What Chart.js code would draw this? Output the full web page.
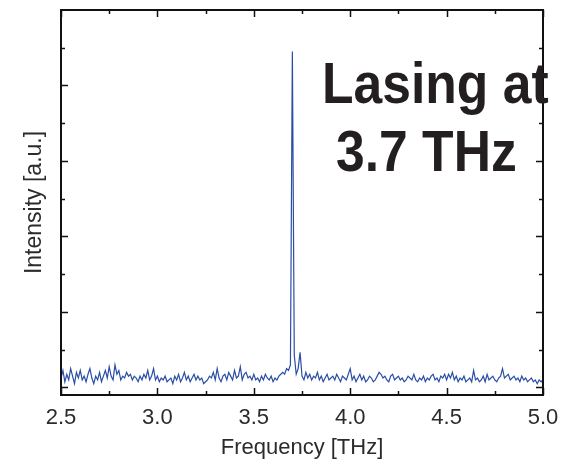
<!DOCTYPE html>
<html>
<head>
<meta charset="utf-8">
<script src="https://cdn.jsdelivr.net/npm/chart.js@4/dist/chart.umd.min.js"></script>
<style>
  html, body { margin: 0; padding: 0; background: #fff; }
  #spec { display: block; }
</style>
</head>
<body>
<canvas id="spec" width="574" height="460"></canvas>
<script>
// spectrum sampled every 0.01 THz from 2.50 to 5.00
var freqStart = 2.5;
var freqStep = 0.01;
var intensity = [
  0.25,0.45,0.15,0.35,0.2,0.5,0.3,0.1,0.4,0.25,0.45,0.2,0.3,0.15,0.35,0.5,0.25,0.1,0.3,0.2,0.4,0.15,0.3,0.45,0.25,
  0.55,0.3,0.2,0.6,0.35,0.45,0.2,0.3,0.25,0.4,0.3,0.35,0.2,0.3,0.25,0.15,0.3,0.2,0.35,0.25,0.45,0.2,0.3,0.5,0.2,
  0.3,0.15,0.25,0.2,0.3,0.15,0.2,0.25,0.1,0.3,0.2,0.35,0.15,0.25,0.4,0.2,0.3,0.15,0.25,0.35,0.2,0.3,0.2,0.25,0.1,
  0.15,0.2,0.3,0.25,0.4,0.2,0.5,0.25,0.15,0.3,0.35,0.2,0.4,0.3,0.2,0.45,0.25,0.3,0.55,0.2,0.35,0.4,0.25,0.3,0.2,
  0.35,0.2,0.25,0.15,0.3,0.2,0.35,0.25,0.2,0.3,0.15,0.25,0.2,0.3,0.35,0.4,0.35,0.5,0.45,0.6,8.9,0.85,0.35,0.5,0.93,
  0.3,0.2,0.4,0.25,0.35,0.2,0.3,0.25,0.4,0.2,0.3,0.15,0.25,0.35,0.2,0.25,0.3,0.2,0.35,0.25,0.15,0.3,0.25,0.2,0.35,
  0.5,0.2,0.3,0.15,0.25,0.35,0.2,0.3,0.15,0.2,0.3,0.25,0.15,0.2,0.3,0.4,0.35,0.25,0.3,0.2,0.15,0.3,0.35,0.2,0.25,
  0.3,0.2,0.25,0.15,0.2,0.3,0.25,0.2,0.35,0.2,0.15,0.25,0.2,0.3,0.15,0.25,0.2,0.3,0.35,0.2,0.25,0.15,0.3,0.25,0.35,
  0.2,0.35,0.25,0.4,0.2,0.3,0.15,0.25,0.2,0.3,0.15,0.2,0.25,0.15,0.45,0.2,0.25,0.15,0.2,0.3,0.15,0.35,0.2,0.25,0.3,
  0.2,0.15,0.25,0.3,0.5,0.25,0.3,0.35,0.2,0.25,0.3,0.2,0.25,0.15,0.3,0.2,0.25,0.15,0.2,0.25,0.15,0.2,0.1,0.2,0.15,0.2
];
var xMajorTicks = [2.5, 3.0, 3.5, 4.0, 4.5, 5.0];
var xMinorTicks = [2.75, 3.25, 3.75, 4.25, 4.75];
var yMajorTicks = [0, 2, 4, 6, 8];
var yMinorTicks = [1, 3, 5, 7, 9];
var noteLines = ['Lasing at', '3.7 THz'];

var points = intensity.map(function(v, i) {
  return { x: +(freqStart + i * freqStep).toFixed(2), y: v };
});

var fontFamily = '"Liberation Sans", Arial, sans-serif';
var inkColor = '#2b2b2b';

// frame + inward ticks on all four sides, and the annotation
var framePlugin = {
  id: 'frame',
  afterDraw: function(chart) {
    var c = chart.ctx;
    var a = chart.chartArea;
    var xs = chart.scales.x, ys = chart.scales.y;
    c.save();
    c.strokeStyle = '#111';
    c.lineWidth = 1.5;
    c.beginPath();
    xMajorTicks.concat(xMinorTicks).forEach(function(t) {
      var len = xMajorTicks.indexOf(t) >= 0 ? 7 : 4;
      var px = Math.round(xs.getPixelForValue(t)) + 0.5;
      c.moveTo(px, a.bottom); c.lineTo(px, a.bottom - len);
      c.moveTo(px, a.top); c.lineTo(px, a.top + len);
    });
    yMajorTicks.concat(yMinorTicks).forEach(function(t) {
      var len = yMajorTicks.indexOf(t) >= 0 ? 7 : 4;
      var py = Math.round(ys.getPixelForValue(t)) + 0.5;
      c.moveTo(a.left, py); c.lineTo(a.left + len, py);
      c.moveTo(a.right, py); c.lineTo(a.right - len, py);
    });
    c.stroke();
    c.lineWidth = 2;
    c.strokeRect(a.left, a.top, a.right - a.left, a.bottom - a.top);

    c.fillStyle = '#231f20';
    c.font = 'bold 58px ' + fontFamily;
    c.textBaseline = 'alphabetic';
    c.save();
    c.translate(322, 103);
    c.scale(0.89, 1);
    c.fillText(noteLines[0], 0, 0);
    c.restore();
    c.save();
    c.translate(336, 171);
    c.scale(0.89, 1);
    c.fillText(noteLines[1], 0, 0);
    c.restore();
    c.restore();
  }
};

new Chart(document.getElementById('spec'), {
  type: 'line',
  data: {
    datasets: [{
      data: points,
      borderColor: '#2a4ea6',
      borderWidth: 1.2,
      pointRadius: 0,
      tension: 0,
      fill: false
    }]
  },
  options: {
    responsive: false,
    animation: false,
    layout: { padding: { top: 10, right: 31, bottom: 0, left: 0 } },
    plugins: { legend: { display: false }, tooltip: { enabled: false } },
    scales: {
      x: {
        type: 'linear',
        min: 2.5,
        max: 5.0,
        grid: { display: false, drawTicks: false },
        border: { display: false },
        afterFit: function(s) { s.height = 65; },
        ticks: {
          stepSize: 0.5,
          padding: 10,
          color: inkColor,
          font: { family: fontFamily, size: 22 },
          maxRotation: 0,
          callback: function(v) { return v.toFixed(1); }
        },
        title: {
          display: true,
          text: 'Frequency [THz]',
          color: inkColor,
          font: { family: fontFamily, size: 22 },
          padding: { top: 0, bottom: -1 }
        }
      },
      y: {
        type: 'linear',
        min: -0.2,
        max: 10,
        grid: { display: false, drawTicks: false },
        border: { display: false },
        afterFit: function(s) { s.width = 61; },
        ticks: { display: false },
        title: {
          display: true,
          text: 'Intensity [a.u.]',
          color: inkColor,
          font: { family: fontFamily, size: 23 },
          padding: { top: 21, bottom: 0 }
        }
      }
    }
  },
  plugins: [framePlugin]
});
</script>
</body>
</html>
